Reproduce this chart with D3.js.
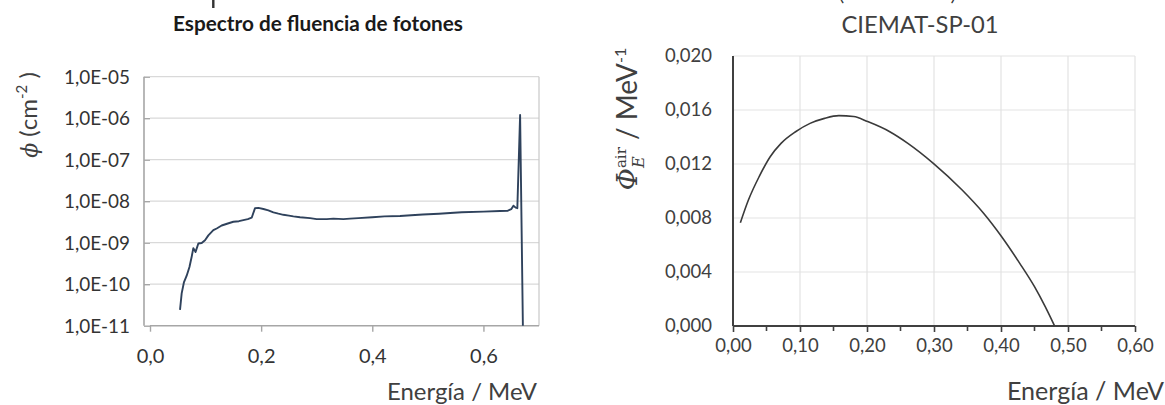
<!DOCTYPE html>
<html><head><meta charset="utf-8">
<script src="https://cdn.jsdelivr.net/npm/d3@7"></script>
<style>
html,body{margin:0;padding:0;background:#fff;}
svg{display:block;font-family:Lato,"Open Sans",sans-serif;}
</style></head>
<body>
<svg id="c" width="1165" height="405"></svg>
<script>
// ---- Left chart data: photon fluence spectrum ----
const leftEnergy = [0.054,0.057,0.061,0.066,0.071,0.075,0.078,0.082,0.087,0.093,0.099,0.105,0.114,0.120,0.129,0.140,0.150,0.160,0.168,0.176,0.183,0.189,0.195,0.204,0.213,0.222,0.231,0.240,0.250,0.258,0.270,0.288,0.300,0.318,0.330,0.348,0.360,0.375,0.400,0.422,0.450,0.470,0.491,0.520,0.540,0.561,0.600,0.630,0.644,0.650,0.654,0.658,0.661,0.666,0.671];
const leftFluence = [2.4e-11,6.0e-11,1.1e-10,1.6e-10,2.6e-10,4.6e-10,7.4e-10,6.0e-10,9.6e-10,9.8e-10,1.15e-9,1.5e-9,2.0e-9,2.2e-9,2.6e-9,2.9e-9,3.2e-9,3.3e-9,3.5e-9,3.7e-9,4.0e-9,6.8e-9,6.9e-9,6.5e-9,6.0e-9,5.4e-9,5.0e-9,4.7e-9,4.5e-9,4.3e-9,4.1e-9,3.9e-9,3.7e-9,3.7e-9,3.8e-9,3.7e-9,3.8e-9,3.9e-9,4.1e-9,4.3e-9,4.4e-9,4.6e-9,4.8e-9,5.0e-9,5.2e-9,5.4e-9,5.6e-9,5.8e-9,5.9e-9,6.4e-9,7.8e-9,7.0e-9,6.8e-9,1.2e-6,1.0e-11];
const leftYTicks = [1e-11,1e-10,1e-9,1e-8,1e-7,1e-6,1e-5];
const leftYTickLabels = ["1,0E-11","1,0E-10","1,0E-09","1,0E-08","1,0E-07","1,0E-06","1,0E-05"];
const leftXTicks = [0,0.2,0.4,0.6];
const leftXTickLabels = ["0,0","0,2","0,4","0,6"];

// ---- Right chart data: CIEMAT-SP-01 ----
const rightEnergy = [0.011,0.023,0.039,0.0555,0.0717,0.0934,0.115,0.1366,0.158,0.180,0.201,0.234,0.261,0.299,0.342,0.374,0.401,0.428,0.450,0.466,0.480];
const rightFluence = [0.00765,0.00933,0.01106,0.01254,0.01353,0.01439,0.01501,0.01538,0.01558,0.01552,0.01514,0.01439,0.01353,0.01205,0.01007,0.00835,0.00661,0.00464,0.00291,0.00143,0.0];
const rightYTicks = [0,0.004,0.008,0.012,0.016,0.020];
const rightYTickLabels = ["0,000","0,004","0,008","0,012","0,016","0,020"];
const rightXTicks = [0,0.1,0.2,0.3,0.4,0.5,0.6];
const rightXTickLabels = ["0,00","0,10","0,20","0,30","0,40","0,50","0,60"];
const rightMinorTicks = [0.05,0.15,0.25,0.35,0.45,0.55];

const svg = d3.select("#c");
const textCol = "#404040";

// partially cut-off heading glyphs at the very top (cropped in the original)
svg.append("text").attr("x",208).attr("y",-1).attr("font-size",50).attr("font-weight",300).attr("fill","#333").text("p");
svg.append("text").attr("x",836).attr("y",-1).attr("font-size",34).attr("font-weight",300).attr("fill","#333").text("(");
svg.append("text").attr("x",950).attr("y",-1).attr("font-size",34).attr("font-weight",300).attr("fill","#333").text(")");

// ================= LEFT =================
const lx = d3.scaleLinear().domain([0,0.7]).range([150,539]);
const ly = d3.scaleLog().domain([1e-11,1e-5]).range([325.7,76.7]);
const L = svg.append("g");

L.selectAll(".hg").data(leftYTicks.slice(1)).join("line")
  .attr("x1",lx(0)).attr("x2",lx(0.7)).attr("y1",d=>ly(d)).attr("y2",d=>ly(d))
  .attr("stroke","#d9d9d9").attr("stroke-width",1.2);
L.append("line").attr("x1",lx(0.7)).attr("x2",lx(0.7)).attr("y1",ly(1e-5)).attr("y2",ly(1e-11))
  .attr("stroke","#c8c8c8").attr("stroke-width",1.2);

const lyAxis = d3.axisLeft(ly).tickValues(leftYTicks).tickFormat((d,i)=>leftYTickLabels[i]).tickSize(6).tickPadding(14);
const gly = L.append("g").attr("transform",`translate(${lx(0)},0)`).call(lyAxis);
const lxAxis = d3.axisBottom(lx).tickValues(leftXTicks).tickFormat((d,i)=>leftXTickLabels[i]).tickSize(6).tickPadding(17);
const glx = L.append("g").attr("transform",`translate(0,${ly(1e-11)})`).call(lxAxis);
[gly,glx].forEach(g=>{
  g.select(".domain").attr("stroke","#a6a6a6").attr("stroke-width",1.6);
  g.selectAll(".tick line").attr("stroke","#a6a6a6").attr("stroke-width",1.4);
  g.selectAll(".tick text").attr("fill","#333").attr("font-size",20).attr("font-family","Lato");
});
gly.selectAll(".tick text").attr("textLength",66).attr("lengthAdjust","spacingAndGlyphs");
gly.select(".domain").attr("d",`M-6,${ly(1e-11)}V${ly(1e-5)}`);
glx.select(".domain").attr("d",`M${lx(0)},0H${lx(0.7)}`);

L.append("path").datum(leftEnergy.map((e,i)=>[e,leftFluence[i]]))
  .attr("fill","none").attr("stroke","#2f425c").attr("stroke-width",1.9).attr("stroke-linejoin","round")
  .attr("d",d3.line().x(d=>lx(d[0])).y(d=>ly(d[1])));

L.append("text").attr("x",318).attr("y",31).attr("text-anchor","middle")
  .attr("font-size",20).attr("font-weight","bold").attr("fill","#1a1a1a")
  .attr("textLength",290).attr("lengthAdjust","spacingAndGlyphs")
  .text("Espectro de fluencia de fotones");
L.append("text").attr("x",537).attr("y",400).attr("text-anchor","end")
  .attr("font-size",24).attr("fill",textCol)
  .attr("textLength",150).attr("lengthAdjust","spacingAndGlyphs").text("Energía / MeV");
const lyt = L.append("text").attr("transform","translate(37,115) rotate(-90)").attr("text-anchor","middle")
  .attr("font-size",24).attr("fill",textCol);
lyt.append("tspan").attr("font-family","DejaVu Serif").attr("font-style","italic").attr("font-size",22).text("ϕ");
lyt.append("tspan").text(" (cm");
lyt.append("tspan").attr("font-size",15).attr("dy",-10).text("-2");
lyt.append("tspan").attr("dy",10).text(" )");

// ================= RIGHT =================
const rx = d3.scaleLinear().domain([0,0.6]).range([733,1135]);
const ry = d3.scaleLinear().domain([0,0.02]).range([326,56]);
const R = svg.append("g");

R.selectAll(".hg").data(rightYTicks.slice(1)).join("line")
  .attr("x1",rx(0)).attr("x2",rx(0.6)).attr("y1",d=>ry(d)).attr("y2",d=>ry(d))
  .attr("stroke","#e3e3e3").attr("stroke-width",1.2);
R.selectAll(".vg").data(rightXTicks.slice(1)).join("line")
  .attr("x1",d=>rx(d)).attr("x2",d=>rx(d)).attr("y1",ry(0.02)).attr("y2",ry(0))
  .attr("stroke","#e3e3e3").attr("stroke-width",1.2);

const ryAxis = d3.axisLeft(ry).tickValues(rightYTicks).tickFormat((d,i)=>rightYTickLabels[i]).tickSize(0).tickPadding(21);
const gry = R.append("g").attr("transform",`translate(${rx(0)},0)`).call(ryAxis);
const rxAxis = d3.axisBottom(rx).tickValues(rightXTicks).tickFormat((d,i)=>rightXTickLabels[i]).tickSize(6).tickPadding(7);
const grx = R.append("g").attr("transform",`translate(0,${ry(0)})`).call(rxAxis);
R.selectAll(".mt").data(rightMinorTicks).join("line")
  .attr("x1",d=>rx(d)).attr("x2",d=>rx(d)).attr("y1",ry(0)).attr("y2",ry(0)+5)
  .attr("stroke","#404040").attr("stroke-width",1.6);
[gry,grx].forEach(g=>{
  g.select(".domain").attr("stroke","#404040").attr("stroke-width",2);
  g.selectAll(".tick line").attr("stroke","#404040").attr("stroke-width",1.6);
  g.selectAll(".tick text").attr("fill",textCol).attr("font-size",18.5).attr("font-family","Lato");
});
gry.select(".domain").attr("d",`M0,${ry(0)}V${ry(0.02)}`);
grx.select(".domain").attr("d",`M${rx(0)},0H${rx(0.6)}`);

R.append("path").datum(rightEnergy.map((e,i)=>[e,rightFluence[i]]))
  .attr("fill","none").attr("stroke","#3a3a3a").attr("stroke-width",1.6).attr("stroke-linejoin","round")
  .attr("d",d3.line().curve(d3.curveMonotoneX).x(d=>rx(d[0])).y(d=>ry(d[1])));

R.append("text").attr("x",920).attr("y",33).attr("text-anchor","middle")
  .attr("font-size",24).attr("fill",textCol)
  .attr("textLength",157).attr("lengthAdjust","spacingAndGlyphs").text("CIEMAT-SP-01");
R.append("text").attr("x",1164).attr("y",400).attr("text-anchor","end")
  .attr("font-size",25).attr("fill",textCol)
  .attr("textLength",157).attr("lengthAdjust","spacingAndGlyphs").text("Energía / MeV");

// rotated y title: Φ_E^air / MeV^-1
const ryt = R.append("text").attr("transform","translate(637,119) rotate(-90)").attr("text-anchor","middle")
  .attr("font-size",28).attr("fill",textCol);
ryt.append("tspan").attr("font-family","DejaVu Serif").attr("font-style","italic").attr("font-size",27).text("Φ");
ryt.append("tspan").attr("font-family","DejaVu Serif").attr("font-size",15).attr("dy",-11).text("air");
const tmp = svg.append("text").attr("font-family","DejaVu Serif").attr("font-size",15).text("air");
const airW = tmp.node().getComputedTextLength(); tmp.remove();
ryt.append("tspan").attr("font-family","DejaVu Serif").attr("font-style","italic").attr("font-size",16)
  .attr("dx",-airW).attr("dy",18).text("E");
const tmp2 = svg.append("text").attr("font-family","DejaVu Serif").attr("font-style","italic").attr("font-size",16).text("E");
const eW = tmp2.node().getComputedTextLength(); tmp2.remove();
ryt.append("tspan").attr("dx",Math.max(0,airW-eW)).attr("dy",-7).text(" / MeV");
ryt.append("tspan").attr("font-size",16).attr("dy",-11).text("-1");
</script>
</body></html>
